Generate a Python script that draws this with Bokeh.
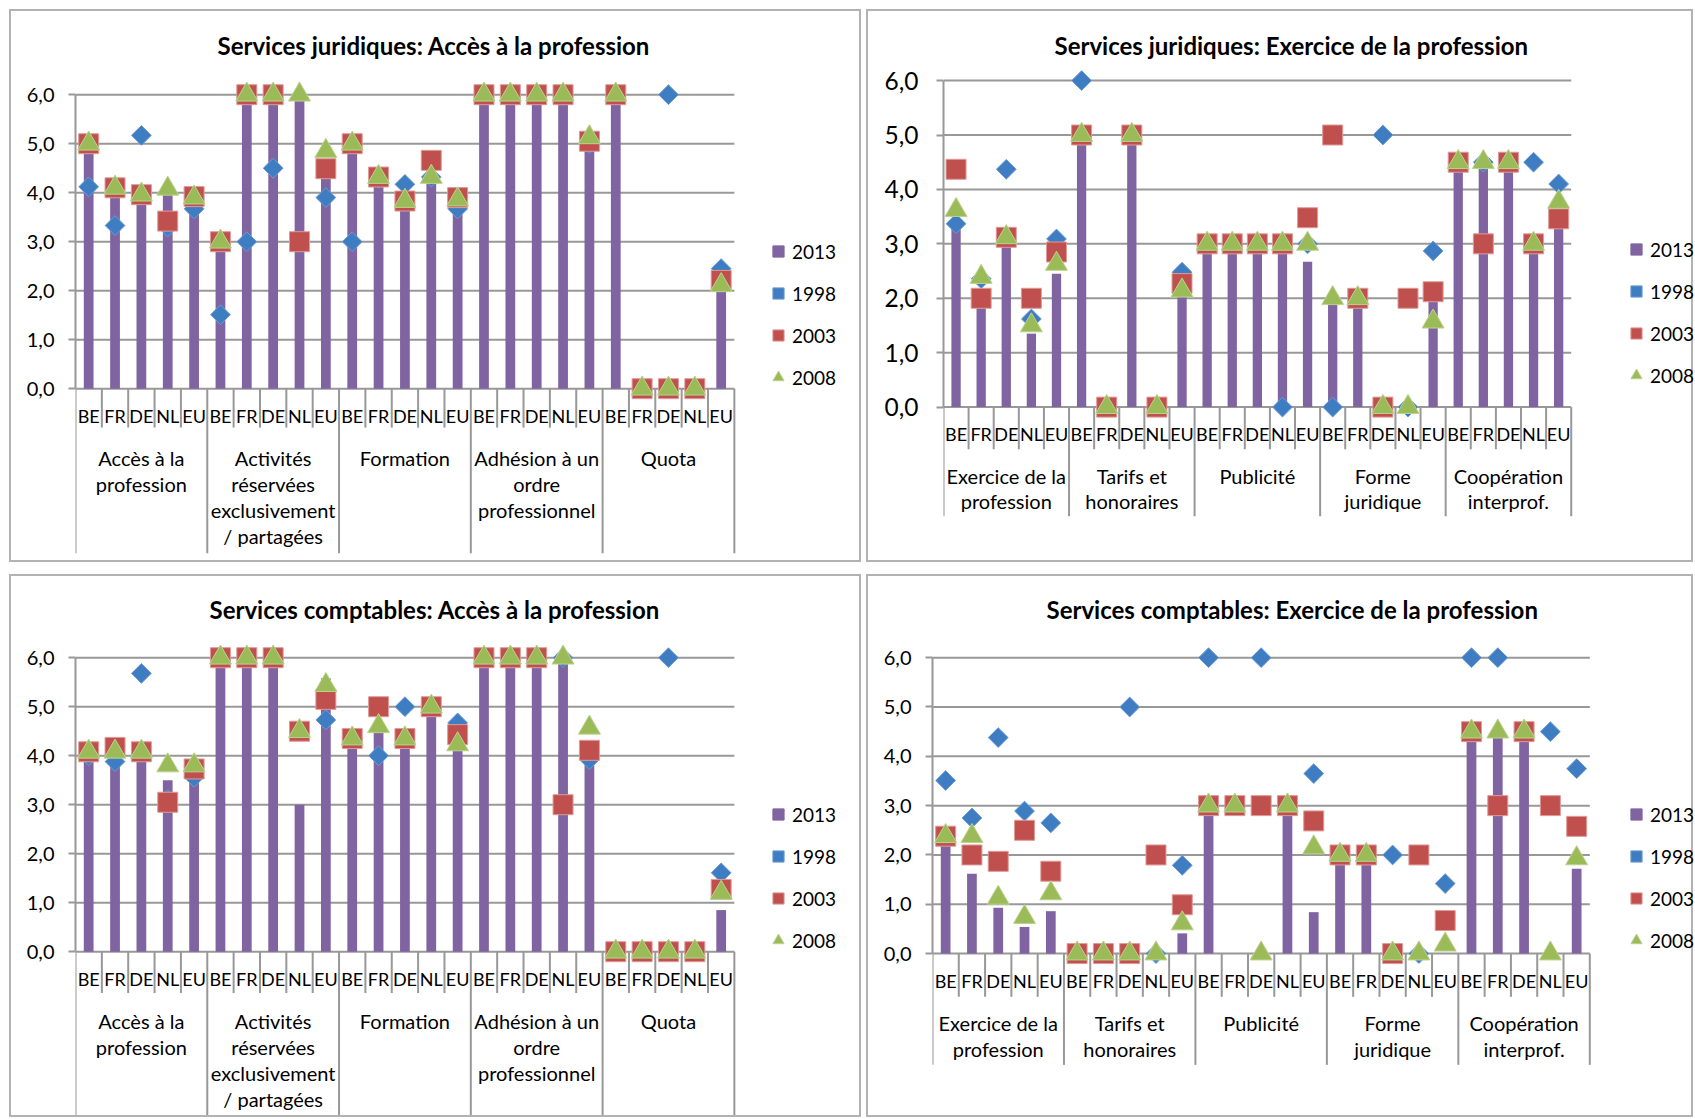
import math
from bokeh.plotting import figure
from bokeh.layouts import row, column, Spacer
from bokeh.models import Range1d, FixedTicker, Legend, LegendItem
from bokeh.core.properties import value
from bokeh.embed import file_html
from bokeh.resources import INLINE

# ---------------- data ----------------
countries = ["BE", "FR", "DE", "NL", "EU"]
acces_groups = [["Accès à la", "profession"],
                ["Activités", "réservées", "exclusivement", "/ partagées"],
                ["Formation"],
                ["Adhésion à un", "ordre", "professionnel"],
                ["Quota"]]
exercice_groups = [["Exercice de la", "profession"],
                   ["Tarifs et", "honoraires"],
                   ["Publicité"],
                   ["Forme", "juridique"],
                   ["Coopération", "interprof."]]
y_ticks = [0, 1, 2, 3, 4, 5, 6]
y_tick_labels = ["0,0", "1,0", "2,0", "3,0", "4,0", "5,0", "6,0"]
series_labels = ["2013", "1998", "2003", "2008"]

titles = ["Services juridiques: Accès à la profession",
          "Services juridiques: Exercice de la profession",
          "Services comptables: Accès à la profession",
          "Services comptables: Exercice de la profession"]

# Services juridiques: Accès à la profession
jur_acces_2013 = [5.0, 4.1, 3.96, 4.08, 3.8, 3.0, 6.0, 6.0, 6.0, 4.5, 5.0, 4.32, 3.83, 4.32, 3.86,
                  6.0, 6.0, 6.0, 6.0, 5.05, 6.0, 0, 0, 0, 2.11]
jur_acces_1998 = [4.12, 3.33, 5.17, 3.3, 3.67, 1.51, 3.0, 4.5, 3.0, 3.9, 3.0, 4.3, 4.17, 4.32, 3.67,
                  6.0, 6.0, 6.0, 6.0, 5.0, 6.0, 0, 6.0, 0, 2.45]
jur_acces_2003 = [5.0, 4.1, 3.96, 3.42, 3.92, 3.0, 6.0, 6.0, 3.0, 4.49, 5.0, 4.32, 3.83, 4.66, 3.9,
                  6.0, 6.0, 6.0, 6.0, 5.05, 6.0, 0, 0, 0, 2.21]
jur_acces_2008 = [5.0, 4.1, 3.96, 4.08, 3.9, 3.0, 6.0, 6.0, 6.0, 4.85, 5.0, 4.32, 3.83, 4.32, 3.86,
                  6.0, 6.0, 6.0, 6.0, 5.13, 6.0, 0, 0, 0, 2.11]

# Services juridiques: Exercice de la profession
jur_exercice_2013 = [3.37, 2.0, 3.1, 1.35, 2.45, 5.0, 0, 5.0, 0, 2.15, 3.0, 3.0, 3.0, 3.0, 2.67,
                     2.0, 2.0, 0, 0, 2.1, 4.5, 4.5, 4.5, 3.0, 3.46]
jur_exercice_1998 = [3.37, 2.36, 4.37, 1.62, 3.09, 6.0, 0, 5.0, 0, 2.48, 3.0, 3.0, 3.0, 0, 3.0,
                     0, 2.0, 5.0, 0, 2.87, 4.5, 4.5, 4.5, 4.5, 4.1]
jur_exercice_2003 = [4.37, 2.0, 3.12, 2.0, 2.85, 5.0, 0, 5.0, 0, 2.27, 3.0, 3.0, 3.0, 3.0, 3.48,
                     5.0, 2.0, 0, 2.0, 2.12, 4.5, 3.0, 4.5, 3.0, 3.46]
jur_exercice_2008 = [3.62, 2.39, 3.12, 1.5, 2.63, 5.0, 0, 5.0, 0, 2.14, 3.0, 3.0, 3.0, 3.0, 3.0,
                     2.0, 2.0, 0, 0, 1.57, 4.5, 4.5, 4.5, 3.0, 3.77]

# Services comptables: Accès à la profession
cpt_acces_2013 = [4.08, 3.88, 4.08, 3.5, 3.6, 6.0, 6.0, 6.0, 3.0, 5.58, 4.35, 4.6, 4.35, 5.0, 4.23,
                  6.0, 6.0, 6.0, 6.0, 4.0, 0, 0, 0, 0, 0.85]
cpt_acces_1998 = [4.0, 3.88, 5.68, 3.1, 3.56, 6.0, 6.0, 6.0, 4.5, 4.73, 4.35, 4.0, 5.0, 5.0, 4.67,
                  6.0, 6.0, 6.0, 6.0, 3.92, 0, 0, 6.0, 0, 1.61]
cpt_acces_2003 = [4.08, 4.17, 4.08, 3.05, 3.73, 6.0, 6.0, 6.0, 4.5, 5.15, 4.35, 5.0, 4.35, 5.0, 4.43,
                  6.0, 6.0, 6.0, 3.0, 4.11, 0, 0, 0, 0, 1.27]
cpt_acces_2008 = [4.08, 4.08, 4.08, 3.8, 3.8, 6.0, 6.0, 6.0, 4.5, 5.44, 4.35, 4.6, 4.35, 5.0, 4.23,
                  6.0, 6.0, 6.0, 6.0, 4.57, 0, 0, 0, 0, 1.2]

# Services comptables: Exercice de la profession
cpt_exercice_2013 = [2.38, 1.62, 0.93, 0.54, 0.86, 0, 0, 0, 0, 0.41, 3.0, 0, 0, 3.0, 0.84,
                     2.0, 2.0, 0, 0, 0, 4.5, 4.5, 4.5, 0, 1.72]
cpt_exercice_1998 = [3.51, 2.75, 4.38, 2.89, 2.65, 0, 0, 5.0, 0, 1.79, 6.0, 3.0, 6.0, 3.0, 3.65,
                     2.0, 2.0, 2.0, 0, 1.42, 6.0, 6.0, 4.5, 4.5, 3.75]
cpt_exercice_2003 = [2.38, 2.0, 1.87, 2.5, 1.67, 0, 0, 0, 2.0, 0.99, 3.0, 3.0, 3.0, 3.0, 2.69,
                     2.0, 2.0, 0, 2.0, 0.67, 4.5, 3.0, 4.5, 3.0, 2.58]
cpt_exercice_2008 = [2.38, 2.38, 1.13, 0.74, 1.22, 0, 0, 0, 0, 0.61, 3.0, 3.0, 0, 3.0, 2.15,
                     2.0, 2.0, 0, 0, 0.18, 4.5, 4.5, 4.5, 0, 1.93]

# ---------------- style ----------------
FONT = "Lato"
PURPLE = "#8064A2"
BLUE = "#3E7DC2"
BLUE_L = "#6E9CD2"
RED = "#C0504D"
RED_L = "#E09A98"
GREEN = "#9BBB59"
GREEN_L = "#BCD38E"
GRID = "#989898"


def make_panel(title, groups, s2013, s1998, s2003, s2008, L):
    n = len(groups) * len(countries)
    xs = list(range(n))
    p = figure(width=L["w"], height=L["h"],
               x_range=Range1d(-0.5, L["x1"]), y_range=Range1d(L["y0"], L["y1"]),
               output_backend="svg", toolbar_location=None, x_axis_location=None,
               min_border_left=L["ml"], min_border_right=0,
               min_border_top=L["mt"], min_border_bottom=L["mb"],
               background_fill_color="white", border_fill_color="white",
               outline_line_color=None)
    p.styles = {"border": "2px solid #B2B2B2"}

    p.title.text = title
    p.title.align = "left"
    p.title.offset = L["toff"]
    p.title.standoff = L["tstand"]
    p.title.text_font = FONT
    p.title.text_font_size = "24px"
    p.title.text_font_style = "bold"
    p.title.text_color = "#000000"

    ax = p.yaxis[0]
    ax.ticker = FixedTicker(ticks=y_ticks)
    ax.major_label_overrides = dict(zip(y_ticks, y_tick_labels))
    ax.bounds = (0, 6)
    ax.axis_line_color = GRID
    ax.axis_line_width = 2
    ax.major_tick_line_color = GRID
    ax.major_tick_line_width = 2
    ax.major_tick_out = 7
    ax.major_tick_in = 0
    ax.minor_tick_line_color = None
    ax.major_label_standoff = L["lstand"]
    ax.major_label_text_font = FONT
    ax.major_label_text_font_size = L["tick_fs"]
    ax.major_label_text_color = "#000000"

    p.ygrid.visible = False
    p.xgrid.visible = False

    # horizontal gridlines over the category span
    p.segment(x0=[-0.5] * len(y_ticks), y0=y_ticks, x1=[n - 0.5] * len(y_ticks), y1=y_ticks,
              line_color=GRID, line_width=2)
    # category separators
    inner = [k - 0.5 for k in range(1, n) if k % len(countries) != 0]
    p.segment(x0=inner, y0=[0] * len(inner), x1=inner, y1=[L["sep_y"]] * len(inner),
              line_color=GRID, line_width=2)
    outer = [k - 0.5 for k in range(0, n + 1, len(countries))]
    p.segment(x0=outer, y0=[0] * len(outer), x1=outer, y1=[L["grp_bottom"]] * len(outer),
              line_color=GRID, line_width=2)

    # series
    p.vbar(x=xs, top=s2013, width=0.37, bottom=0, fill_color=PURPLE, line_color=None)
    r98 = p.scatter(x=xs, y=s1998, marker="square", angle=math.pi / 4, size=14,
                    fill_color=BLUE, line_color=BLUE_L, line_width=1)
    r03 = p.scatter(x=xs, y=s2003, marker="square", size=20,
                    fill_color=RED, line_color=RED_L, line_width=1)
    r08 = p.scatter(x=xs, y=s2008, marker="triangle", size=22,
                    fill_color=GREEN, line_color=GREEN_L, line_width=1)
    # legend-only swatch for the 2013 bars (no visible point)
    proxy13 = p.scatter(x=[float("nan")], y=[float("nan")], marker="square", size=12,
                        fill_color=PURPLE, line_color=PURPLE)

    # category labels
    p.text(x=xs, y=[L["cat_y"]] * n, text=countries * len(groups),
           text_align="center", text_baseline="middle",
           text_font=value(FONT), text_font_size="18px", text_color="#000000")
    gx, gy, gt = [], [], []
    for g, lines in enumerate(groups):
        for li, t in enumerate(lines):
            gx.append(g * len(countries) + (len(countries) - 1) / 2)
            gy.append(L["grp_y"][li])
            gt.append(t)
    p.text(x=gx, y=gy, text=gt, text_align="center", text_baseline="middle",
           text_font=value(FONT), text_font_size="20px", text_color="#000000")

    legend = Legend(items=[LegendItem(label=series_labels[0], renderers=[proxy13]),
                           LegendItem(label=series_labels[1], renderers=[r98]),
                           LegendItem(label=series_labels[2], renderers=[r03]),
                           LegendItem(label=series_labels[3], renderers=[r08])],
                    location=(L["lx"], L["ly"]), orientation="vertical",
                    glyph_width=28, glyph_height=28, label_height=28, label_standoff=-7,
                    spacing=14, padding=0, margin=0,
                    border_line_color=None, background_fill_alpha=0,
                    label_text_font=FONT, label_text_font_size="19px",
                    label_text_color="#000000")
    p.add_layout(legend, "center")
    return p


L_tl = dict(w=852, h=553, ml=64, mt=55, mb=11, x1=29.40, y0=-3.3633, y1=6.5755,
            toff=142, tstand=13, lstand=14, tick_fs="20px", grp_bottom=-3.3633,
            cat_y=-0.551, sep_y=-0.794, grp_y=[-1.412, -1.941, -2.471, -3.0], lx=689, ly=162)
L_tr = dict(w=827, h=553, ml=75, mt=55, mb=11, x1=29.45, y0=-2.690, y1=6.259,
            toff=111, tstand=13, lstand=18, tick_fs="24.5px", grp_bottom=-2.006,
            cat_y=-0.496, sep_y=-0.774, grp_y=[-1.271, -1.727], lx=679, ly=164)
L_bl = dict(w=852, h=543, ml=64, mt=60, mb=0, x1=29.40, y0=-3.424, y1=6.4327,
            toff=134, tstand=25, lstand=14, tick_fs="20px", grp_bottom=-3.424,
            cat_y=-0.555, sep_y=-0.843, grp_y=[-1.410, -1.939, -2.469, -2.998], lx=689, ly=165)
L_br = dict(w=827, h=543, ml=64, mt=60, mb=0, x1=28.52, y0=-3.364, y1=6.4294,
            toff=114, tstand=25, lstand=14, tick_fs="20px", grp_bottom=-2.256,
            cat_y=-0.547, sep_y=-0.877, grp_y=[-1.400, -1.926], lx=690, ly=165)

p1 = make_panel(titles[0], acces_groups, jur_acces_2013, jur_acces_1998, jur_acces_2003, jur_acces_2008, L_tl)
p2 = make_panel(titles[1], exercice_groups, jur_exercice_2013, jur_exercice_1998, jur_exercice_2003, jur_exercice_2008, L_tr)
p3 = make_panel(titles[2], acces_groups, cpt_acces_2013, cpt_acces_1998, cpt_acces_2003, cpt_acces_2008, L_bl)
p4 = make_panel(titles[3], exercice_groups, cpt_exercice_2013, cpt_exercice_1998, cpt_exercice_2003, cpt_exercice_2008, L_br)

layout = column(Spacer(height=9),
                row(Spacer(width=9), p1, Spacer(width=5), p2, spacing=0),
                Spacer(height=12),
                row(Spacer(width=9), p3, Spacer(width=5), p4, spacing=0),
                spacing=0)

with open("out.html", "w") as f:
    f.write(file_html(layout, INLINE))
